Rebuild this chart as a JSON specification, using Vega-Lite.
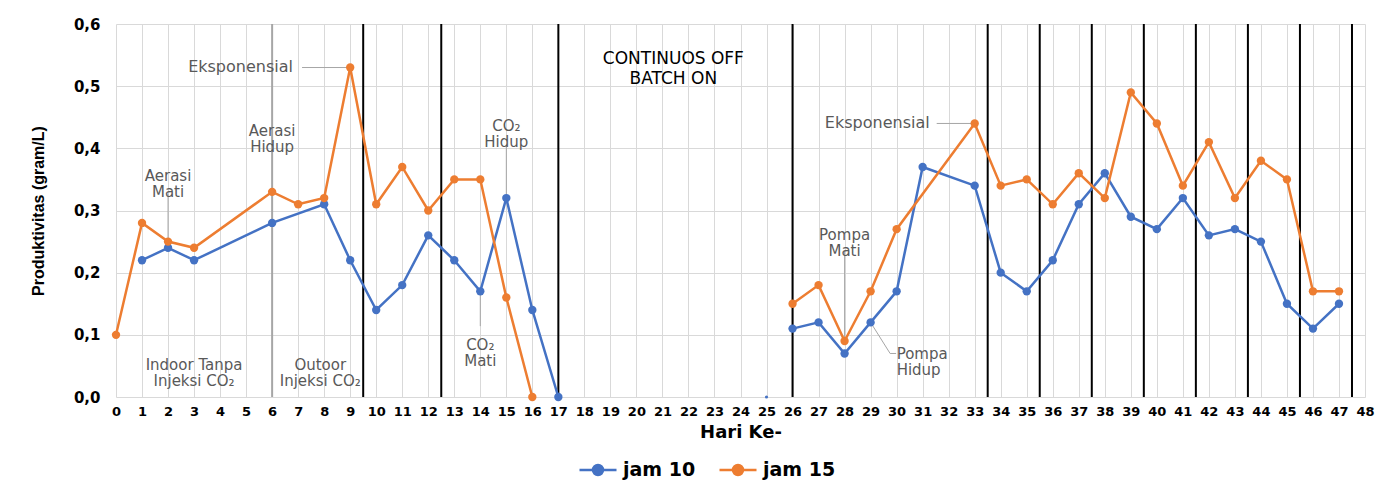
{
  "$schema": "https://vega.github.io/schema/vega-lite/v6.json",
  "width": 1249,
  "height": 373,
  "autosize": {"type": "none"},
  "padding": {"left": 116, "top": 24, "right": 35, "bottom": 92},
  "background": "white",
  "config": {
    "view": {"stroke": null},
    "font": "DejaVu Sans",
    "axis": {
      "grid": true, "gridColor": "#d9d9d9", "gridWidth": 1,
      "domain": false, "ticks": false,
      "labelFont": "DejaVu Sans", "labelFontWeight": "bold", "labelColor": "black",
      "titleFontWeight": "bold", "titleColor": "black"
    },
    "axisX": {
      "labelFontSize": 13, "labelPadding": 8, "labelFlush": false, "labelOverlap": false,
      "titleFont": "DejaVu Sans", "titleFontSize": 18, "titlePadding": 5
    },
    "axisY": {
      "labelFontSize": 15, "labelPadding": 16,
      "labelExpr": "replace(format(datum.value, '.1f'), '.', ',')",
      "titleFont": "Liberation Sans", "titleFontSize": 16, "titlePadding": 27
    }
  },
  "datasets": {
    "series": [
      {"day": 1, "val": 0.22, "series": "jam 10", "seg": "a"},
      {"day": 2, "val": 0.24, "series": "jam 10", "seg": "a"},
      {"day": 3, "val": 0.22, "series": "jam 10", "seg": "a"},
      {"day": 6, "val": 0.28, "series": "jam 10", "seg": "a"},
      {"day": 8, "val": 0.31, "series": "jam 10", "seg": "a"},
      {"day": 9, "val": 0.22, "series": "jam 10", "seg": "a"},
      {"day": 10, "val": 0.14, "series": "jam 10", "seg": "a"},
      {"day": 11, "val": 0.18, "series": "jam 10", "seg": "a"},
      {"day": 12, "val": 0.26, "series": "jam 10", "seg": "a"},
      {"day": 13, "val": 0.22, "series": "jam 10", "seg": "a"},
      {"day": 14, "val": 0.17, "series": "jam 10", "seg": "a"},
      {"day": 15, "val": 0.32, "series": "jam 10", "seg": "a"},
      {"day": 16, "val": 0.14, "series": "jam 10", "seg": "a"},
      {"day": 17, "val": 0.0, "series": "jam 10", "seg": "a"},
      {"day": 26, "val": 0.11, "series": "jam 10", "seg": "b"},
      {"day": 27, "val": 0.12, "series": "jam 10", "seg": "b"},
      {"day": 28, "val": 0.07, "series": "jam 10", "seg": "b"},
      {"day": 29, "val": 0.12, "series": "jam 10", "seg": "b"},
      {"day": 30, "val": 0.17, "series": "jam 10", "seg": "b"},
      {"day": 31, "val": 0.37, "series": "jam 10", "seg": "b"},
      {"day": 33, "val": 0.34, "series": "jam 10", "seg": "b"},
      {"day": 34, "val": 0.20, "series": "jam 10", "seg": "b"},
      {"day": 35, "val": 0.17, "series": "jam 10", "seg": "b"},
      {"day": 36, "val": 0.22, "series": "jam 10", "seg": "b"},
      {"day": 37, "val": 0.31, "series": "jam 10", "seg": "b"},
      {"day": 38, "val": 0.36, "series": "jam 10", "seg": "b"},
      {"day": 39, "val": 0.29, "series": "jam 10", "seg": "b"},
      {"day": 40, "val": 0.27, "series": "jam 10", "seg": "b"},
      {"day": 41, "val": 0.32, "series": "jam 10", "seg": "b"},
      {"day": 42, "val": 0.26, "series": "jam 10", "seg": "b"},
      {"day": 43, "val": 0.27, "series": "jam 10", "seg": "b"},
      {"day": 44, "val": 0.25, "series": "jam 10", "seg": "b"},
      {"day": 45, "val": 0.15, "series": "jam 10", "seg": "b"},
      {"day": 46, "val": 0.11, "series": "jam 10", "seg": "b"},
      {"day": 47, "val": 0.15, "series": "jam 10", "seg": "b"},
      {"day": 0, "val": 0.10, "series": "jam 15", "seg": "a"},
      {"day": 1, "val": 0.28, "series": "jam 15", "seg": "a"},
      {"day": 2, "val": 0.25, "series": "jam 15", "seg": "a"},
      {"day": 3, "val": 0.24, "series": "jam 15", "seg": "a"},
      {"day": 6, "val": 0.33, "series": "jam 15", "seg": "a"},
      {"day": 7, "val": 0.31, "series": "jam 15", "seg": "a"},
      {"day": 8, "val": 0.32, "series": "jam 15", "seg": "a"},
      {"day": 9, "val": 0.53, "series": "jam 15", "seg": "a"},
      {"day": 10, "val": 0.31, "series": "jam 15", "seg": "a"},
      {"day": 11, "val": 0.37, "series": "jam 15", "seg": "a"},
      {"day": 12, "val": 0.30, "series": "jam 15", "seg": "a"},
      {"day": 13, "val": 0.35, "series": "jam 15", "seg": "a"},
      {"day": 14, "val": 0.35, "series": "jam 15", "seg": "a"},
      {"day": 15, "val": 0.16, "series": "jam 15", "seg": "a"},
      {"day": 16, "val": 0.0, "series": "jam 15", "seg": "a"},
      {"day": 26, "val": 0.15, "series": "jam 15", "seg": "b"},
      {"day": 27, "val": 0.18, "series": "jam 15", "seg": "b"},
      {"day": 28, "val": 0.09, "series": "jam 15", "seg": "b"},
      {"day": 29, "val": 0.17, "series": "jam 15", "seg": "b"},
      {"day": 30, "val": 0.27, "series": "jam 15", "seg": "b"},
      {"day": 33, "val": 0.44, "series": "jam 15", "seg": "b"},
      {"day": 34, "val": 0.34, "series": "jam 15", "seg": "b"},
      {"day": 35, "val": 0.35, "series": "jam 15", "seg": "b"},
      {"day": 36, "val": 0.31, "series": "jam 15", "seg": "b"},
      {"day": 37, "val": 0.36, "series": "jam 15", "seg": "b"},
      {"day": 38, "val": 0.32, "series": "jam 15", "seg": "b"},
      {"day": 39, "val": 0.49, "series": "jam 15", "seg": "b"},
      {"day": 40, "val": 0.44, "series": "jam 15", "seg": "b"},
      {"day": 41, "val": 0.34, "series": "jam 15", "seg": "b"},
      {"day": 42, "val": 0.41, "series": "jam 15", "seg": "b"},
      {"day": 43, "val": 0.32, "series": "jam 15", "seg": "b"},
      {"day": 44, "val": 0.38, "series": "jam 15", "seg": "b"},
      {"day": 45, "val": 0.35, "series": "jam 15", "seg": "b"},
      {"day": 46, "val": 0.17, "series": "jam 15", "seg": "b"},
      {"day": 47, "val": 0.17, "series": "jam 15", "seg": "b"}
    ],
    "dividers": [
      {"day": 9.5}, {"day": 12.5}, {"day": 17}, {"day": 26}, {"day": 33.5}, {"day": 35.5},
      {"day": 37.5}, {"day": 39.5}, {"day": 41.5}, {"day": 43.5}, {"day": 45.5}, {"day": 47.5}
    ],
    "aeration": [{"day": 6}],
    "callouts": [
      {"day": 2, "day2": 2, "val": 0.327, "val2": 0.25},
      {"day": 15, "day2": 15, "val": 0.405, "val2": 0.32},
      {"day": 14, "day2": 14, "val": 0.17, "val2": 0.114},
      {"day": 28, "day2": 28, "val": 0.235, "val2": 0.09},
      {"day": 29, "day2": 29.75, "val": 0.12, "val2": 0.07},
      {"day": 29.75, "day2": 29.98, "val": 0.07, "val2": 0.07},
      {"day": 7.15, "day2": 9, "val": 0.53, "val2": 0.53},
      {"day": 31.54, "day2": 33, "val": 0.44, "val2": 0.44}
    ],
    "notesCenter": [
      {"day": 2, "val": 0.356, "label": "Aerasi\nMati"},
      {"day": 6, "val": 0.428, "label": "Aerasi\nHidup"},
      {"day": 3, "val": 0.052, "label": "Indoor Tanpa\nInjeksi CO₂"},
      {"day": 7.85, "val": 0.052, "label": "Outoor\nInjeksi CO₂"},
      {"day": 15, "val": 0.436, "label": "CO₂\nHidup"},
      {"day": 14, "val": 0.083, "label": "CO₂\nMati"},
      {"day": 28, "val": 0.26, "label": "Pompa\nMati"}
    ],
    "notesRight": [
      {"day": 6.8, "val": 0.531, "label": "Eksponensial"},
      {"day": 31.27, "val": 0.44, "label": "Eksponensial"}
    ],
    "notesLeft": [
      {"day": 30.0, "val": 0.069, "label": "Pompa\nHidup"}
    ],
    "phase": [
      {"day": 21.42, "val": 0.544, "label": "CONTINUOS OFF\nBATCH ON"}
    ],
    "stray": [{"day": 25, "val": 0}]
  },
  "layer": [
    {
      "data": {"name": "dividers"},
      "mark": {"type": "rule", "color": "black", "strokeWidth": 2},
      "encoding": {
        "x": {
          "field": "day", "type": "quantitative", "title": "Hari Ke-",
          "scale": {"domain": [0, 48], "nice": false, "zero": false},
          "axis": {"values": [0,1,2,3,4,5,6,7,8,9,10,11,12,13,14,15,16,17,18,19,20,21,22,23,24,25,26,27,28,29,30,31,32,33,34,35,36,37,38,39,40,41,42,43,44,45,46,47,48]}
        }
      }
    },
    {
      "data": {"name": "aeration"},
      "mark": {"type": "rule", "color": "#a6a6a6", "strokeWidth": 2},
      "encoding": {
        "x": {"field": "day", "type": "quantitative", "title": "Hari Ke-",
          "axis": {"values": [0,1,2,3,4,5,6,7,8,9,10,11,12,13,14,15,16,17,18,19,20,21,22,23,24,25,26,27,28,29,30,31,32,33,34,35,36,37,38,39,40,41,42,43,44,45,46,47,48]}}
      }
    },
    {
      "data": {"name": "callouts"},
      "mark": {"type": "rule", "color": "#a6a6a6", "strokeWidth": 1},
      "encoding": {
        "x": {"field": "day", "type": "quantitative", "title": "Hari Ke-",
          "axis": {"values": [0,1,2,3,4,5,6,7,8,9,10,11,12,13,14,15,16,17,18,19,20,21,22,23,24,25,26,27,28,29,30,31,32,33,34,35,36,37,38,39,40,41,42,43,44,45,46,47,48]}},
        "x2": {"field": "day2"},
        "y": {"field": "val", "type": "quantitative", "title": "Produktivitas (gram/L)",
          "scale": {"domain": [0, 0.6], "nice": false},
          "axis": {"values": [0, 0.1, 0.2, 0.3, 0.4, 0.5, 0.6]}},
        "y2": {"field": "val2"}
      }
    },
    {
      "data": {"name": "series"},
      "mark": {"type": "line", "strokeWidth": 2.5},
      "encoding": {
        "x": {"field": "day", "type": "quantitative", "title": "Hari Ke-",
          "axis": {"values": [0,1,2,3,4,5,6,7,8,9,10,11,12,13,14,15,16,17,18,19,20,21,22,23,24,25,26,27,28,29,30,31,32,33,34,35,36,37,38,39,40,41,42,43,44,45,46,47,48]}},
        "y": {"field": "val", "type": "quantitative", "title": "Produktivitas (gram/L)",
          "axis": {"values": [0, 0.1, 0.2, 0.3, 0.4, 0.5, 0.6]}},
        "detail": {"field": "seg", "type": "nominal"},
        "color": {
          "field": "series", "type": "nominal",
          "scale": {"domain": ["jam 10", "jam 15"], "range": ["#4472C4", "#ED7D31"]},
          "legend": {
            "orient": "none", "legendX": 462, "legendY": 426, "direction": "horizontal",
            "title": null, "padding": 0,
            "symbolType": "M-1,0H1M-0.27,0A0.27,0.27 0 1,0 0.27,0A0.27,0.27 0 1,0 -0.27,0",
            "symbolSize": 1369, "symbolStrokeWidth": 2.5,
            "labelFont": "DejaVu Sans", "labelFontWeight": "bold", "labelFontSize": 19,
            "labelColor": "black", "columnPadding": 18, "labelOffset": 5,
            "encode": {
              "symbols": {
                "update": {
                  "fill": {"scale": "color", "field": "value"},
                  "stroke": {"scale": "color", "field": "value"},
                  "opacity": {"value": 1}
                }
              }
            }
          }
        }
      }
    },
    {
      "data": {"name": "series"},
      "mark": {"type": "point", "filled": true, "size": 70, "opacity": 1},
      "encoding": {
        "x": {"field": "day", "type": "quantitative", "title": "Hari Ke-",
          "axis": {"values": [0,1,2,3,4,5,6,7,8,9,10,11,12,13,14,15,16,17,18,19,20,21,22,23,24,25,26,27,28,29,30,31,32,33,34,35,36,37,38,39,40,41,42,43,44,45,46,47,48]}},
        "y": {"field": "val", "type": "quantitative", "title": "Produktivitas (gram/L)",
          "axis": {"values": [0, 0.1, 0.2, 0.3, 0.4, 0.5, 0.6]}},
        "color": {"field": "series", "type": "nominal"}
      }
    },
    {
      "data": {"name": "stray"},
      "mark": {"type": "point", "filled": true, "size": 10, "color": "#4472C4", "opacity": 1},
      "encoding": {
        "x": {"field": "day", "type": "quantitative", "title": "Hari Ke-",
          "axis": {"values": [0,1,2,3,4,5,6,7,8,9,10,11,12,13,14,15,16,17,18,19,20,21,22,23,24,25,26,27,28,29,30,31,32,33,34,35,36,37,38,39,40,41,42,43,44,45,46,47,48]}},
        "y": {"field": "val", "type": "quantitative", "title": "Produktivitas (gram/L)",
          "axis": {"values": [0, 0.1, 0.2, 0.3, 0.4, 0.5, 0.6]}}
      }
    },
    {
      "data": {"name": "notesCenter"},
      "mark": {"type": "text", "align": "center", "baseline": "middle", "lineBreak": "\n", "lineHeight": 16, "font": "DejaVu Sans", "fontSize": 15, "color": "#595959"},
      "encoding": {
        "x": {"field": "day", "type": "quantitative", "title": "Hari Ke-",
          "axis": {"values": [0,1,2,3,4,5,6,7,8,9,10,11,12,13,14,15,16,17,18,19,20,21,22,23,24,25,26,27,28,29,30,31,32,33,34,35,36,37,38,39,40,41,42,43,44,45,46,47,48]}},
        "y": {"field": "val", "type": "quantitative", "title": "Produktivitas (gram/L)",
          "axis": {"values": [0, 0.1, 0.2, 0.3, 0.4, 0.5, 0.6]}},
        "text": {"field": "label", "type": "nominal"}
      }
    },
    {
      "data": {"name": "notesRight"},
      "mark": {"type": "text", "align": "right", "baseline": "middle", "font": "DejaVu Sans", "fontSize": 16, "color": "#595959"},
      "encoding": {
        "x": {"field": "day", "type": "quantitative", "title": "Hari Ke-",
          "axis": {"values": [0,1,2,3,4,5,6,7,8,9,10,11,12,13,14,15,16,17,18,19,20,21,22,23,24,25,26,27,28,29,30,31,32,33,34,35,36,37,38,39,40,41,42,43,44,45,46,47,48]}},
        "y": {"field": "val", "type": "quantitative", "title": "Produktivitas (gram/L)",
          "axis": {"values": [0, 0.1, 0.2, 0.3, 0.4, 0.5, 0.6]}},
        "text": {"field": "label", "type": "nominal"}
      }
    },
    {
      "data": {"name": "notesLeft"},
      "mark": {"type": "text", "align": "left", "baseline": "middle", "lineBreak": "\n", "lineHeight": 16, "font": "DejaVu Sans", "fontSize": 15, "color": "#595959"},
      "encoding": {
        "x": {"field": "day", "type": "quantitative", "title": "Hari Ke-",
          "axis": {"values": [0,1,2,3,4,5,6,7,8,9,10,11,12,13,14,15,16,17,18,19,20,21,22,23,24,25,26,27,28,29,30,31,32,33,34,35,36,37,38,39,40,41,42,43,44,45,46,47,48]}},
        "y": {"field": "val", "type": "quantitative", "title": "Produktivitas (gram/L)",
          "axis": {"values": [0, 0.1, 0.2, 0.3, 0.4, 0.5, 0.6]}},
        "text": {"field": "label", "type": "nominal"}
      }
    },
    {
      "data": {"name": "phase"},
      "mark": {"type": "text", "align": "center", "baseline": "middle", "lineBreak": "\n", "lineHeight": 20, "font": "DejaVu Sans", "fontSize": 17, "color": "black"},
      "encoding": {
        "x": {"field": "day", "type": "quantitative", "title": "Hari Ke-",
          "axis": {"values": [0,1,2,3,4,5,6,7,8,9,10,11,12,13,14,15,16,17,18,19,20,21,22,23,24,25,26,27,28,29,30,31,32,33,34,35,36,37,38,39,40,41,42,43,44,45,46,47,48]}},
        "y": {"field": "val", "type": "quantitative", "title": "Produktivitas (gram/L)",
          "axis": {"values": [0, 0.1, 0.2, 0.3, 0.4, 0.5, 0.6]}},
        "text": {"field": "label", "type": "nominal"}
      }
    }
  ]
}
